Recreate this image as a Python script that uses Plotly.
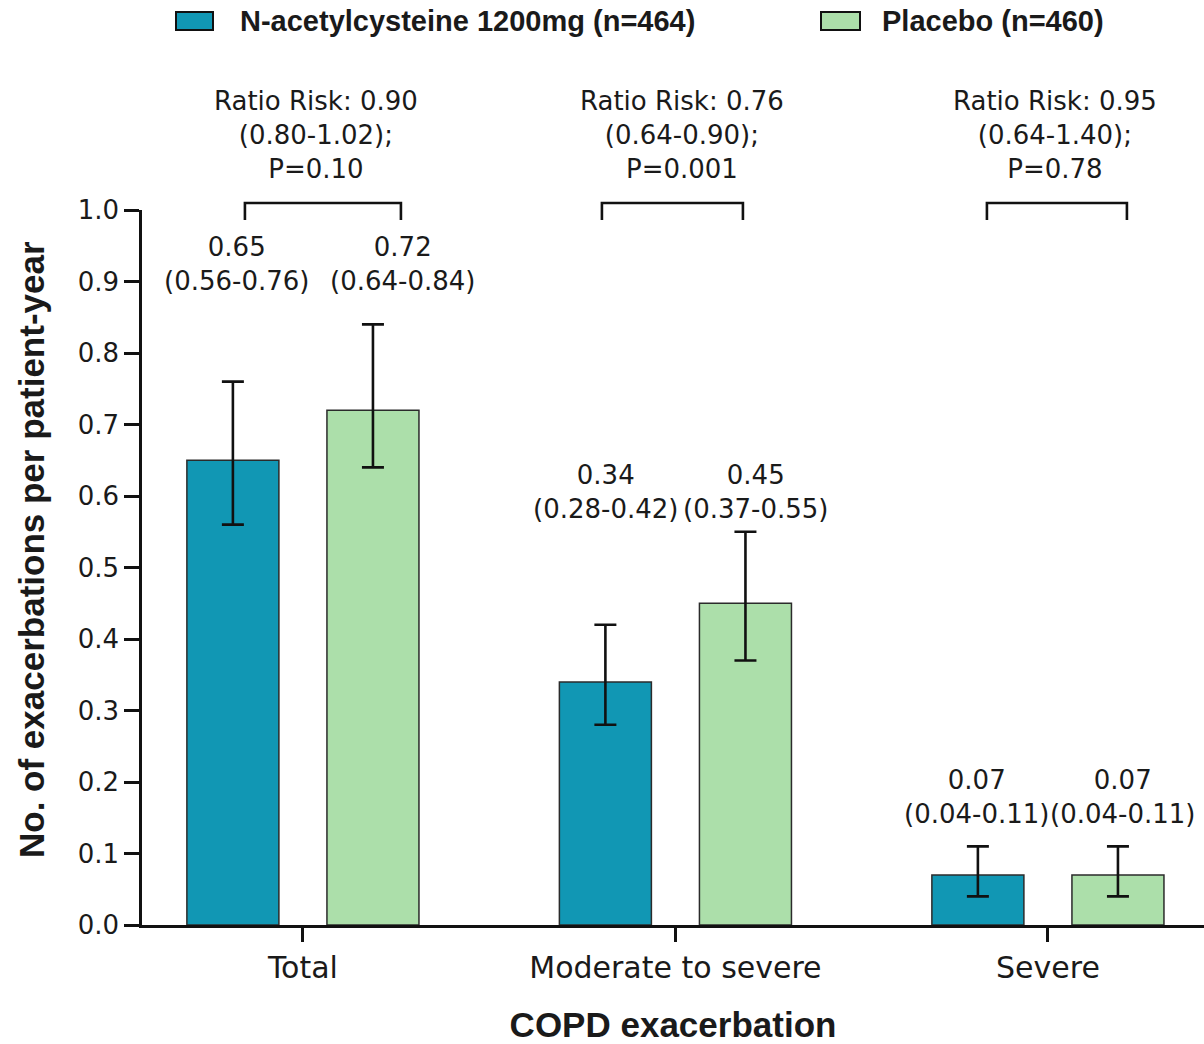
import plotly.graph_objects as go

# ---- data ----
categories = ["Total", "Moderate to severe", "Severe"]

nac_name = "N-acetylcysteine 1200mg (n=464)"
nac_rate = [0.65, 0.34, 0.07]
nac_low = [0.56, 0.28, 0.04]
nac_high = [0.76, 0.42, 0.11]

pbo_name = "Placebo (n=460)"
pbo_rate = [0.72, 0.45, 0.07]
pbo_low = [0.64, 0.37, 0.04]
pbo_high = [0.84, 0.55, 0.11]

rr_value = [0.90, 0.76, 0.95]
rr_low = [0.80, 0.64, 0.64]
rr_high = [1.02, 0.90, 1.40]
rr_p = ["0.10", "0.001", "0.78"]

y_ticks = [0.0, 0.1, 0.2, 0.3, 0.4, 0.5, 0.6, 0.7, 0.8, 0.9, 1.0]

# ---- styling ----
NAC_COLOR = "#1197B4"
PBO_COLOR = "#ACDFAA"
EDGE = "#2b2b2b"
INK = "#1a1a1a"
REG_FONT = "DejaVu Sans"
BOLD_FONT = "Liberation Sans, Arial"

W, H = 1204, 1044
M_L, M_R, M_T, M_B = 142, 0, 210, 119
PLOT_W = W - M_L - M_R
PLOT_H = H - M_T - M_B
X_RANGE = [-0.432, 2.419]


def paper_x(px):
    return (px - M_L) / PLOT_W


def paper_y(py):
    return (H - M_B - py) / PLOT_H


def fmt(v):
    return f"{v:.2f}"


idx = list(range(len(categories)))

fig = go.Figure()

fig.add_trace(go.Bar(
    name=nac_name, x=idx, y=nac_rate,
    marker=dict(color=NAC_COLOR, line=dict(color=EDGE, width=1.5)),
    error_y=dict(type="data", symmetric=False,
                 array=[h - v for h, v in zip(nac_high, nac_rate)],
                 arrayminus=[v - l for v, l in zip(nac_rate, nac_low)],
                 color="#111111", thickness=2.6, width=11),
    showlegend=False,
))
fig.add_trace(go.Bar(
    name=pbo_name, x=idx, y=pbo_rate,
    marker=dict(color=PBO_COLOR, line=dict(color=EDGE, width=1.5)),
    error_y=dict(type="data", symmetric=False,
                 array=[h - v for h, v in zip(pbo_high, pbo_rate)],
                 arrayminus=[v - l for v, l in zip(pbo_rate, pbo_low)],
                 color="#111111", thickness=2.6, width=11),
    showlegend=False,
))

annotations = []
shapes = []

# rate labels above each group (x offsets in px from group centre, y in axis units)
label_dx = [(-66, 100), (-70, 80), (-71, 75)]
label_y = [0.9245, 0.605, 0.179]
for i in idx:
    for k, (rate, lo, hi) in enumerate([(nac_rate[i], nac_low[i], nac_high[i]),
                                         (pbo_rate[i], pbo_low[i], pbo_high[i])]):
        annotations.append(dict(
            x=i, y=label_y[i], xref="x", yref="y",
            xshift=label_dx[i][k], yanchor="middle", xanchor="center",
            text=f"{fmt(rate)}<br>({fmt(lo)}-{fmt(hi)})",
            showarrow=False, align="center",
            font=dict(family=REG_FONT, size=26, color=INK),
        ))

# risk-ratio brackets and text
px_per_unit = PLOT_W / (X_RANGE[1] - X_RANGE[0])
bracket_dx = [(-58, 98), (-73.5, 67.5), (-61, 79)]
rr_dx = [13, 6.5, 7]
for i in idx:
    x0 = i + bracket_dx[i][0] / px_per_unit
    x1 = i + bracket_dx[i][1] / px_per_unit
    y_top = paper_y(203)
    y_leg = paper_y(220)
    shapes.append(dict(
        type="path", xref="x", yref="paper",
        path=f"M {x0},{y_leg} L {x0},{y_top} L {x1},{y_top} L {x1},{y_leg}",
        line=dict(color="#111111", width=2.6),
    ))
    annotations.append(dict(
        x=i, y=paper_y(135), xref="x", yref="paper",
        xshift=rr_dx[i], yanchor="middle", xanchor="center",
        text=f"Ratio Risk: {fmt(rr_value[i])}<br>({fmt(rr_low[i])}-{fmt(rr_high[i])});<br>P={rr_p[i]}",
        showarrow=False, align="center",
        font=dict(family=REG_FONT, size=26, color=INK),
    ))

# legend drawn as swatches with labels across the top
legend_items = [(nac_name, NAC_COLOR, 176, 213, 238), (pbo_name, PBO_COLOR, 821, 860, 880)]
for name, color, sx0, sx1, tx in legend_items:
    shapes.append(dict(
        type="rect", xref="paper", yref="paper",
        x0=paper_x(sx0), x1=paper_x(sx1), y0=paper_y(30), y1=paper_y(12),
        fillcolor=color, line=dict(color="#111111", width=2),
    ))
    annotations.append(dict(
        x=paper_x(tx), y=paper_y(21), xref="paper", yref="paper",
        xanchor="left", yanchor="middle", showarrow=False,
        text=f"<b>{name}</b>",
        font=dict(family=BOLD_FONT, size=29, color=INK),
    ))

# vertical axis title
annotations.append(dict(
    x=paper_x(31), y=paper_y(550), xref="paper", yref="paper",
    xanchor="center", yanchor="middle", textangle=-90, showarrow=False,
    text="<b>No. of exacerbations per patient-year</b>",
    font=dict(family=BOLD_FONT, size=35, color=INK),
))

fig.update_layout(
    width=W, height=H,
    margin=dict(l=M_L, r=M_R, t=M_T, b=M_B, autoexpand=False),
    paper_bgcolor="white", plot_bgcolor="white",
    barmode="group", bargap=0.248, bargroupgap=0.343,
    annotations=annotations, shapes=shapes,
    showlegend=False,
    xaxis=dict(
        tickmode="array", tickvals=idx, ticktext=categories,
        range=X_RANGE, showgrid=False, zeroline=False,
        showline=True, linecolor="#111111", linewidth=2.6,
        ticks="outside", ticklen=14, tickwidth=2.6, tickcolor="#111111",
        tickfont=dict(family=REG_FONT, size=30, color=INK),
        title=dict(text="<b>COPD exacerbation</b>", standoff=33,
                   font=dict(family=BOLD_FONT, size=35, color=INK)),
    ),
    yaxis=dict(
        range=[0, 1.0], tickmode="array", tickvals=y_ticks,
        ticktext=[f"{v:.1f}" for v in y_ticks],
        showgrid=False, zeroline=False,
        showline=True, linecolor="#111111", linewidth=2.6,
        ticks="outside", ticklen=15, tickwidth=2.6, tickcolor="#111111",
        tickfont=dict(family=REG_FONT, size=26, color=INK),
    ),
)

fig.write_html("out.html")
